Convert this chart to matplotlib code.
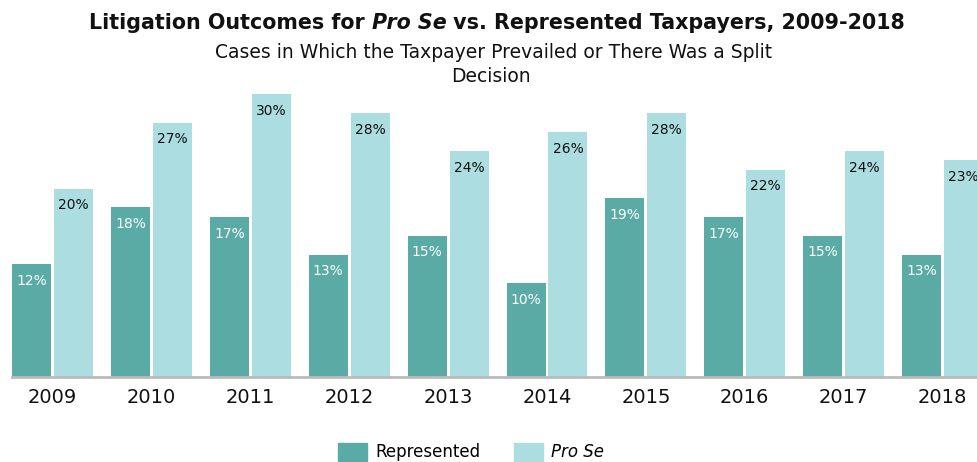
import numpy as np
import matplotlib
matplotlib.use('Agg')
import matplotlib.pyplot as plt
from matplotlib.patches import Patch

years = ['2009', '2010', '2011', '2012', '2013', '2014', '2015', '2016', '2017', '2018']
represented = [12, 18, 17, 13, 15, 10, 19, 17, 15, 13]
pro_se = [20, 27, 30, 28, 24, 26, 28, 22, 24, 23]

dark = '#5aaba6'
light = '#acdde1'

plt.rcParams['font.family'] = ['DejaVu Sans']

fig = plt.figure(figsize=(9.77, 4.62), dpi=100)
ax = fig.add_axes([0, 85 / 462, 1, 292 / 462])

x = np.arange(len(years))
width = 0.394
offset = 0.212
bars_r = ax.bar(x - offset, represented, width, color=dark, label='Represented')
bars_p = ax.bar(x + offset, pro_se, width, color=light, label='Pro Se')

for bars, vals, col in [(bars_r, represented, 'white'), (bars_p, pro_se, '#111111')]:
    for b, v in zip(bars, vals):
        ax.annotate(f'{v}%', (b.get_x() + b.get_width() / 2, v),
                    xytext=(0, -7), textcoords='offset points',
                    ha='center', va='top', fontsize=10, color=col)

ax.set_xlim(-0.531, 9.348)
ax.set_ylim(0, 292 / 9.42)
for s in ['top', 'left', 'right']:
    ax.spines[s].set_visible(False)
ax.spines['bottom'].set_color('#bbbbbb')
ax.spines['bottom'].set_linewidth(2)
ax.spines['bottom'].set_bounds(-0.41, 10)
ax.set_yticks([])
ax.set_xticks(x)
ax.set_xticklabels(years, fontsize=14, color='#111111')
ax.tick_params(axis='x', length=0, pad=8)

# title with italic "Pro Se" laid out piece by piece
pieces = [('Litigation Outcomes for ', 'normal'), ('Pro Se', 'italic'),
          (' vs. Represented Taxpayers, 2009-2018', 'normal')]
fig.canvas.draw()
renderer = fig.canvas.get_renderer()
texts = []
total = 0
for s, style in pieces:
    t = fig.text(0, 1 - 23 / 462, s, fontsize=14.85, fontweight='bold', style=style,
                 va='center', ha='left', color='#111111')
    w = t.get_window_extent(renderer).width
    texts.append((t, w))
    total += w
xpos = (497 - total / 2) / 977
for t, w in texts:
    t.set_x(xpos)
    xpos += w / 977

fig.text(494 / 977, 1 - 53 / 462, 'Cases in Which the Taxpayer Prevailed or There Was a Split',
         fontsize=13.5, ha='center', va='center', color='#111111')
fig.text(491 / 977, 1 - 77 / 462, 'Decision', fontsize=13.5, ha='center', va='center', color='#111111')

handles = [Patch(color=dark, label='Represented'), Patch(color=light, label='Pro Se')]
leg = fig.legend(handles=handles, loc='center', bbox_to_anchor=(471 / 977, 1 - 452 / 462),
                 ncol=2, frameon=False, fontsize=12, handlelength=1.75, handleheight=1.3,
                 columnspacing=2.0, handletextpad=0.5)
leg.get_texts()[1].set_style('italic')

fig.savefig('out.png', dpi=100)
